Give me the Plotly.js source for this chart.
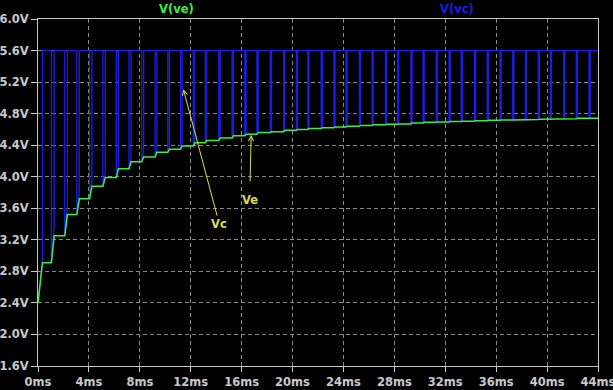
<!DOCTYPE html>
<html>
<head>
<meta charset="utf-8">
<script src="https://cdn.plot.ly/plotly-3.0.1.min.js"></script>
<style>
html,body{margin:0;padding:0;background:#000;}
#chart{width:613px;height:390px;}
</style>
</head>
<body>
<div id="chart"></div>
<script>
// ---- data (times in ms, voltages in V) ----
const startTimes = [0, 0.35];
const startLevels = [2.40, 2.91];
const pulseTimes = [1.05, 2.1, 3.05, 4.05, 5.1, 6.15, 7.15, 8.15, 9.2, 10.2, 11.2, 12.2, 13.15, 14.2, 15.25, 16.25, 17.2, 18.25, 19.3, 20.3, 21.2, 22.25, 23.25, 24.2, 25.25, 26.25, 27.3, 28.25, 29.3, 30.25, 31.3, 32.3, 33.25, 34.3, 35.3, 36.3, 37.3, 38.3, 39.3, 40.25, 41.3, 42.3, 43.3];
const pulseWidths = [0.22, 0.21, 0.2, 0.19, 0.18, 0.17, 0.16, 0.15, 0.14, 0.13, 0.12, 0.12, 0.11, 0.11, 0.1, 0.1, 0.1, 0.1, 0.09, 0.09, 0.09, 0.09, 0.09, 0.09, 0.09, 0.09, 0.09, 0.09, 0.09, 0.09, 0.09, 0.09, 0.09, 0.09, 0.09, 0.09, 0.09, 0.09, 0.09, 0.09, 0.09, 0.09, 0.09];
const veLevels = [3.25, 3.52, 3.72, 3.88, 3.99, 4.10, 4.19, 4.25, 4.31, 4.35, 4.39, 4.43, 4.46, 4.49, 4.52, 4.54, 4.56, 4.57, 4.59, 4.60, 4.61, 4.62, 4.63, 4.64, 4.65, 4.66, 4.665, 4.67, 4.68, 4.69, 4.695, 4.70, 4.705, 4.71, 4.715, 4.72, 4.72, 4.725, 4.73, 4.73, 4.735, 4.74, 4.74];
const vcLowEnd = [3.36, 3.62, 3.80, 3.95, 4.05, 4.15, 4.23, 4.29, 4.34, 4.38, 4.42, 4.45, 4.48, 4.51, 4.54, 4.56, 4.58, 4.59, 4.61, 4.62, 4.63, 4.64, 4.65, 4.66, 4.67, 4.68, 4.68, 4.69, 4.70, 4.71, 4.71, 4.72, 4.72, 4.73, 4.73, 4.74, 4.74, 4.74, 4.75, 4.75, 4.75, 4.76, 4.76];
const vcHigh = 5.6;
const endTime = 44;
const xTickVals = [0,4,8,12,16,20,24,28,32,36,40,44];
const xTickText = ['0ms','4ms','8ms','12ms','16ms','20ms','24ms','28ms','32ms','36ms','40ms','44ms'];
const yTickVals = [1.6,2.0,2.4,2.8,3.2,3.6,4.0,4.4,4.8,5.2,5.6,6.0];
const yTickText = ['1.6V','2.0V','2.4V','2.8V','3.2V','3.6V','4.0V','4.4V','4.8V','5.2V','5.6V','6.0V'];
const seriesNames = ['V(ve)', 'V(vc)'];

// ---- build traces ----
const veX = [startTimes[0], startTimes[1]], veY = [startLevels[0], startLevels[1]];
const vcX = [startTimes[0], startTimes[1], startTimes[1]], vcY = [startLevels[0], startLevels[1], vcHigh];
let prev = startLevels[1];
for (let k = 0; k < pulseTimes.length; k++) {
  const t0 = pulseTimes[k], t1 = pulseTimes[k] + pulseWidths[k];
  veX.push(t0, t1); veY.push(prev, veLevels[k]);
  vcX.push(t0, t0, t1, t1); vcY.push(vcHigh, prev, vcLowEnd[k], vcHigh);
  prev = veLevels[k];
}
veX.push(endTime); veY.push(prev);
vcX.push(endTime); vcY.push(vcHigh);

const green = '#3cf03c', blue = '#1c1ce6', yellow = '#dede48', txt = '#c8c8c8';

const traces = [
  {x: vcX, y: vcY, mode: 'lines', name: seriesNames[1], line: {color: blue, width: 1.3, shape: 'linear'}, hoverinfo: 'skip'},
  {x: veX, y: veY, mode: 'lines', name: seriesNames[0], line: {color: green, width: 1.5, shape: 'linear'}, hoverinfo: 'skip'}
];

const tickFont = {family: 'DejaVu Sans', size: 11.5, color: txt, weight: 'bold'};
const axisCommon = {
  showline: true, mirror: true, linecolor: '#c8c8c8', linewidth: 1,
  showgrid: true, gridcolor: '#8a8a8a', gridwidth: 1, griddash: '4px,3px',
  zeroline: false, ticks: 'outside', ticklen: 5, tickcolor: '#c8c8c8', tickwidth: 1,
  tickfont: tickFont, fixedrange: true, ticklabeloverflow: 'allow'
};

const layout = {
  width: 613, height: 390,
  margin: {l: 38, r: 15, t: 19, b: 24, pad: 0},
  paper_bgcolor: '#000', plot_bgcolor: '#000',
  showlegend: false,
  xaxis: Object.assign({}, axisCommon, {range: [0, 44.0001], tickvals: xTickVals, ticktext: xTickText}),
  yaxis: Object.assign({}, axisCommon, {range: [1.6, 6.0], tickvals: yTickVals, ticktext: yTickText, ticklen: 6}),
  annotations: [
    {xref: 'paper', yref: 'paper', x: 0.248, y: 1.028, text: seriesNames[0], showarrow: false, xanchor: 'center', yanchor: 'middle',
     font: {family: 'DejaVu Sans', size: 11.5, color: green, weight: 'bold'}},
    {xref: 'paper', yref: 'paper', x: 0.748, y: 1.028, text: seriesNames[1], showarrow: false, xanchor: 'center', yanchor: 'middle',
     font: {family: 'DejaVu Sans', size: 11.5, color: blue, weight: 'bold'}},
    {xref: 'x', yref: 'y', x: 11.42, y: 5.11, text: 'Vc', showarrow: true, ax: 36, ay: 135,
     arrowhead: 5, arrowsize: 1, arrowwidth: 1, arrowcolor: yellow,
     font: {family: 'DejaVu Sans', size: 11.5, color: yellow, weight: 'bold'}},
    {xref: 'x', yref: 'y', x: 16.75, y: 4.53, text: 'Ve', showarrow: true, ax: -1.5, ay: 65, startstandoff: 10,
     arrowhead: 5, arrowsize: 1, arrowwidth: 1, arrowcolor: yellow,
     font: {family: 'DejaVu Sans', size: 11.5, color: yellow, weight: 'bold'}}
  ]
};

Plotly.newPlot('chart', traces, layout, {staticPlot: true, displayModeBar: false});
</script>
</body>
</html>
